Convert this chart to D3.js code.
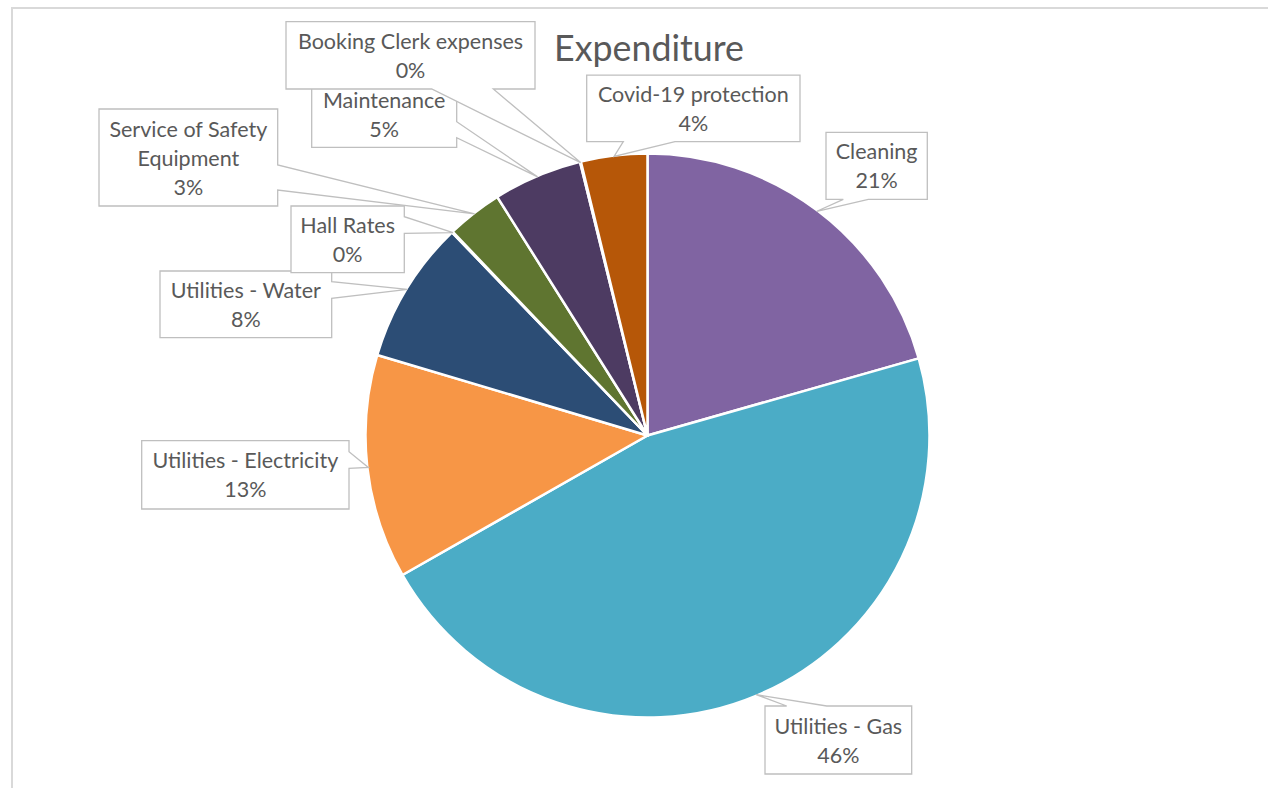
<!DOCTYPE html>
<html><head><meta charset="utf-8">
<script src="https://cdn.jsdelivr.net/npm/d3@7"></script>
<style>body{margin:0;background:#fff} svg{display:block}</style>
</head><body><svg id="c" width="1268" height="788"></svg>
<script>
const categories = ["Cleaning","Utilities - Gas","Utilities - Electricity","Utilities - Water","Hall Rates","Service of Safety Equipment","Maintenance","Booking Clerk expenses","Covid-19 protection"];
const values = [20.6, 46.2, 12.85, 8.2, 0.05, 3.2, 5.1, 0.05, 3.8];
const colors = ["#8064A2","#4BACC6","#F79646","#2C4D75","#772C2A","#5F7530","#4D3B62","#276A7C","#B65708"];
const labelLines = [["Cleaning"],["Utilities - Gas"],["Utilities - Electricity"],["Utilities - Water"],["Hall Rates"],["Service of Safety","Equipment"],["Maintenance"],["Booking Clerk expenses"],["Covid-19 protection"]];
const title = "Expenditure";

// callout layout (hand placed in the original): box [x,y,w,h], side of the pointer, pointer base a..b
const callouts = [
 {box:[826,132.3,101.3,67], side:"bottom", a:843.3, b:868.3},
 {box:[765,706,146.7,68], side:"top", a:786.7, b:826.7},
 {box:[141.7,440.7,207.3,68.3], side:"right", a:451.7, b:468.3},
 {box:[160,271,171.7,66.7], side:"right", a:281.7, b:298.3},
 {box:[291,206,113.3,66.7], side:"right", a:216.7, b:233.3},
 {box:[99,109,178.7,97], side:"right", a:165, b:190},
 {box:[311.7,81.3,145,66], side:"right", a:121.7, b:137.7},
 {box:[286,21.7,249,67.3], side:"bottom", a:431.7, b:493.3},
 {box:[586.7,75.2,213.3,66.5], side:"bottom", a:623.3, b:675}
];

const svg = d3.select("#c");
const W = 1268, H = 788;
const cx = 647.5, cy = 435.5, R = 282;
const FONT = "Lato, 'Open Sans', sans-serif";
const TXT = "#595959";

// chart border
svg.append("rect").attr("x",12).attr("y",8).attr("width",1400).attr("height",1000)
  .attr("fill","#fff").attr("stroke","#d9d9d9").attr("stroke-width",2);

// font fitting helper
function fitSize(str, target, base){
  const t = svg.append("text").attr("font-family",FONT).attr("font-size",base).text(str);
  const w = t.node().getComputedTextLength();
  t.remove();
  return base * target / w;
}
const labelSize = fitSize("Utilities - Electricity", 186, 20);
const titleSize = fitSize(title, 190, 30);

const total = d3.sum(values);
const pct = d3.format(".0%");
const data = categories.map((c,i)=>({name:c, value:values[i], i}));
const pie = d3.pie().sort(null).value(d=>d.value);
const arcs = pie(data);
const arc = d3.arc().innerRadius(0).outerRadius(R);
const edge = d3.arc().innerRadius(R-1).outerRadius(R-1);

const g = svg.append("g").attr("transform",`translate(${cx},${cy})`);
g.selectAll("path").data(arcs).join("path")
  .attr("d",arc).attr("fill",d=>colors[d.data.i])
  .attr("stroke","#fff").attr("stroke-width",2.5).attr("stroke-linejoin","round");

// title
svg.append("text").attr("x",649).attr("y",61).attr("text-anchor","middle")
  .attr("font-family",FONT).attr("font-size",titleSize).attr("fill",TXT).text(title);

// callouts
arcs.forEach((d,i)=>{
  const c = callouts[i];
  const [x,y,w,h] = c.box;
  const [ex,ey] = edge.centroid(d);
  const px = cx+ex, py = cy+ey;
  let p;
  if(c.side==="right"){
    p = `M${x},${y}H${x+w}V${c.a}L${px},${py}L${x+w},${c.b}V${y+h}H${x}Z`;
  } else if(c.side==="bottom"){
    p = `M${x},${y}H${x+w}V${y+h}H${c.b}L${px},${py}L${c.a},${y+h}H${x}Z`;
  } else {
    p = `M${x},${y}H${c.a}L${px},${py}L${c.b},${y}H${x+w}V${y+h}H${x}Z`;
  }
  svg.append("path").attr("d",p).attr("fill","#fff").attr("stroke","#bfbfbf").attr("stroke-width",1.3);
  const lines = labelLines[i].concat([pct(values[i]/total)]);
  const n = lines.length;
  const mid = y + h/2 + 8;
  const t = svg.append("text").attr("text-anchor","middle").attr("font-family",FONT)
    .attr("font-size",labelSize).attr("fill",TXT);
  lines.forEach((s,k)=>{
    t.append("tspan").attr("x",x+w/2).attr("y",mid + (k-(n-1)/2)*29).text(s);
  });
});
</script></body></html>
